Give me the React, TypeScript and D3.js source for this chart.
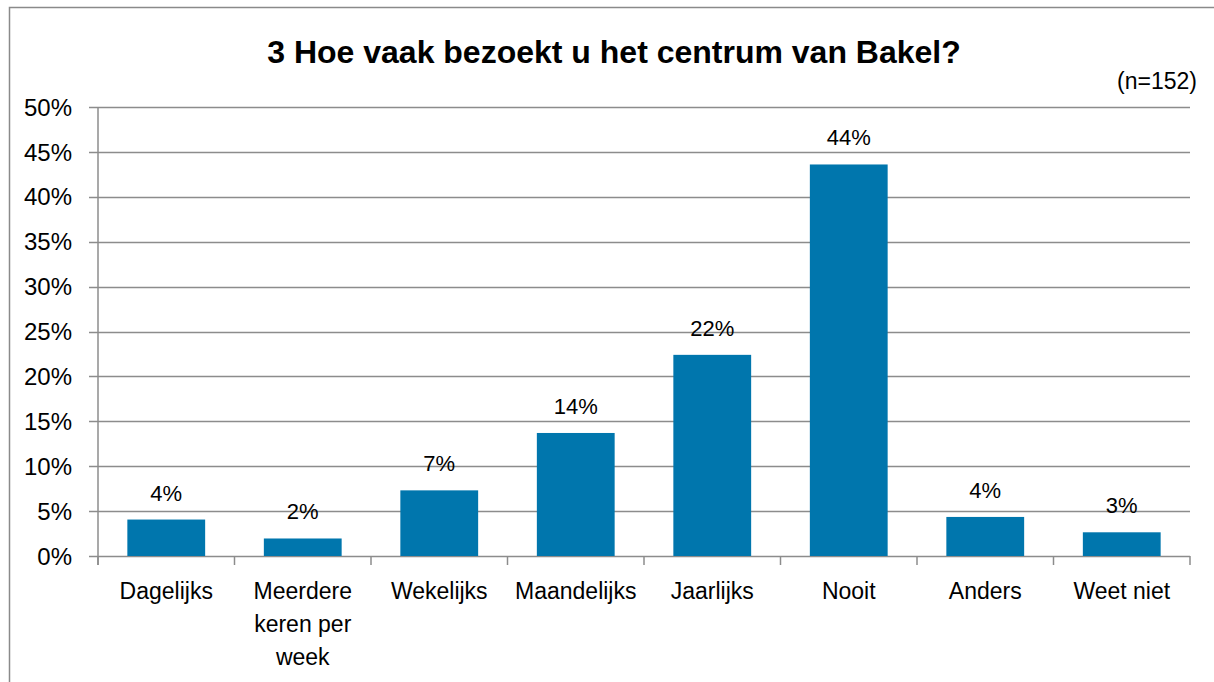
import * as d3 from "d3";
import React from "react";

const categories = [
  ["Dagelijks"],
  ["Meerdere", "keren per", "week"],
  ["Wekelijks"],
  ["Maandelijks"],
  ["Jaarlijks"],
  ["Nooit"],
  ["Anders"],
  ["Weet niet"],
];
const values = [0.0406, 0.0195, 0.0731, 0.137, 0.224, 0.436, 0.0435, 0.0264];
const valueLabels = ["4%", "2%", "7%", "14%", "22%", "44%", "4%", "3%"];
const yTicks = [0, 0.05, 0.1, 0.15, 0.2, 0.25, 0.3, 0.35, 0.4, 0.45, 0.5];

const title = "3 Hoe vaak bezoekt u het centrum van Bakel?";
const subtitle = "(n=152)";

const W = 1214;
const H = 682;
const margin = { top: 107, right: 24, bottom: 126, left: 98 };
const font = "'Liberation Sans', Arial, sans-serif";

export default function App() {
  const x = d3
    .scaleBand<number>()
    .domain(d3.range(categories.length))
    .range([margin.left, W - margin.right])
    .paddingInner(0.43)
    .paddingOuter(0.215);
  const band = d3
    .scaleBand<number>()
    .domain(d3.range(categories.length))
    .range([margin.left, W - margin.right]);
  const y = d3
    .scaleLinear()
    .domain([0, 0.5])
    .range([H - margin.bottom, margin.top]);
  const fmt = d3.format(".0%");
  const grid = "#8c8c8c";

  return (
    <svg
      width={W}
      height={H}
      style={{ position: "absolute", left: 0, top: 0, background: "#fff" }}
      fontFamily={font}
    >
      <rect x={9.5} y={7.5} width={W} height={H} fill="none" stroke="#8a8a8a" strokeWidth={1.5} />
      <text x={614} y={63} textAnchor="middle" fontWeight="bold" fontSize={32}>
        {title}
      </text>
      <text x={1197} y={89} textAnchor="end" fontSize={23}>
        {subtitle}
      </text>

      {yTicks.map((t) => (
        <g key={t}>
          <line
            x1={margin.left - 9}
            x2={W - margin.right}
            y1={Math.round(y(t)) + 0.5}
            y2={Math.round(y(t)) + 0.5}
            stroke={grid}
            strokeWidth={1.5}
          />
          <text x={72} y={y(t)} dy="0.36em" textAnchor="end" fontSize={24}>
            {fmt(t)}
          </text>
        </g>
      ))}
      <line
        x1={margin.left}
        x2={margin.left}
        y1={margin.top}
        y2={y(0) + 9}
        stroke={grid}
        strokeWidth={1.5}
      />
      {d3.range(categories.length + 1).map((i) => {
        const xx = i < categories.length ? band(i)! : W - margin.right;
        return (
          <line key={i} x1={xx} x2={xx} y1={y(0)} y2={y(0) + 9} stroke={grid} strokeWidth={1.5} />
        );
      })}

      {values.map((v, i) => (
        <g key={i}>
          <rect
            x={x(i)}
            y={y(v)}
            width={x.bandwidth()}
            height={y(0) - y(v)}
            fill="#0076ad"
          />
          <text
            x={x(i)! + x.bandwidth() / 2}
            y={y(v) - 19}
            textAnchor="middle"
            fontSize={22}
          >
            {valueLabels[i]}
          </text>
          {categories[i].map((line, j) => (
            <text
              key={j}
              x={band(i)! + band.bandwidth() / 2}
              y={599 + j * 33}
              textAnchor="middle"
              fontSize={23}
            >
              {line}
            </text>
          ))}
        </g>
      ))}
    </svg>
  );
}
